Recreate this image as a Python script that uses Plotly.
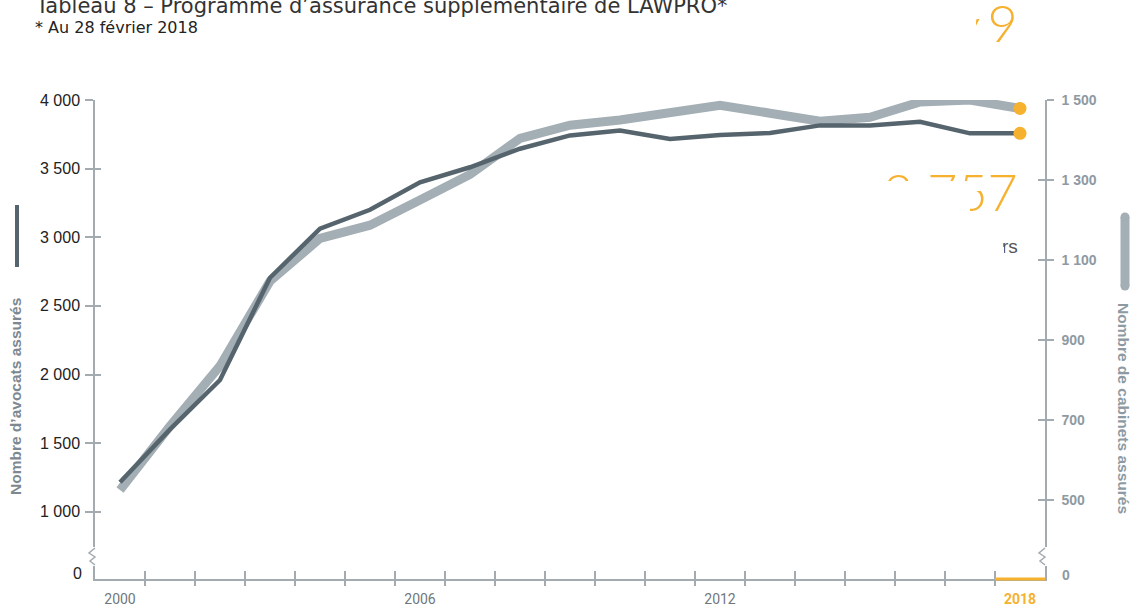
import plotly.graph_objects as go

# ---------------- data ----------------
years = list(range(2000, 2019))
avocats = [1215, 1600, 1960, 2705, 3062, 3200, 3400, 3510, 3645, 3742,
           3778, 3716, 3745, 3760, 3815, 3815, 3842, 3757, 3757]
cabinets = [525, 685, 835, 1047, 1154, 1187, 1250, 1314, 1404, 1437,
            1450, 1467, 1487, 1467, 1447, 1457, 1495, 1500, 1479]

left_tickvals = [1000, 1500, 2000, 2500, 3000, 3500, 4000]
left_ticktext = ["1\u00a0000", "1\u00a0500", "2\u00a0000", "2\u00a0500",
                 "3\u00a0000", "3\u00a0500", "4\u00a0000"]
right_tickvals = [500, 700, 900, 1100, 1300, 1500]
right_ticktext = ["500", "700", "900", "1 100", "1 300", "1 500"]
x_label_years = [2000, 2006, 2012, 2018]

title_text = "Tableau 8 – Programme d’assurance supplémentaire de LAWPRO*"
subtitle_text = "* Au 28 février 2018"
left_title = "Nombre d’avocats assurés"
right_title = "Nombre de cabinets assurés"

# ---------------- style ----------------
DARK = "#56656d"
GRAY = "#a3aeb5"
ORANGE = "#f6b12f"
AXIS = "#a3abb1"
RLAB = "#8e9aa2"
TITLE_GRAY = "#7d8890"

W, H = 1131, 609
PL, PR, PT, PB = 95, 1045, 100, 579


def px(x):
    return (x - PL) / (PR - PL)


def py(y):
    return (PB - y) / (PB - PT)


x_range = [years[0] - 0.5, years[-1] + 0.5]
boundaries = [y + 0.5 for y in years[:-1]]
left_range = [510, 4000]
right_range = [302.5, 1500]

x_ticktext = [str(y) for y in x_label_years[:-1]] + \
    ["<b><span style='color:%s'>%d</span></b>" % (ORANGE, x_label_years[-1])]

fig = go.Figure()

# cabinets (right axis, main y so it is drawn beneath)
fig.add_trace(go.Scatter(x=years, y=cabinets, mode="lines", xaxis="x", yaxis="y",
                         line=dict(color=GRAY, width=9), hoverinfo="skip", showlegend=False))
fig.add_trace(go.Scatter(x=[years[-1]], y=[cabinets[-1]], mode="markers", xaxis="x", yaxis="y",
                         marker=dict(color=ORANGE, size=13), hoverinfo="skip", showlegend=False))
# avocats (left axis, overlaying)
fig.add_trace(go.Scatter(x=years, y=avocats, mode="lines", xaxis="x", yaxis="y2",
                         line=dict(color=DARK, width=4.5), hoverinfo="skip", showlegend=False))
fig.add_trace(go.Scatter(x=[years[-1]], y=[avocats[-1]], mode="markers", xaxis="x", yaxis="y2",
                         marker=dict(color=ORANGE, size=13), hoverinfo="skip", showlegend=False))
# dummy traces so the tick-only overlay axes are drawn
for xa, ya in [("x", "y3"), ("x", "y4"), ("x2", "y")]:
    fig.add_trace(go.Scatter(x=[None], y=[None], xaxis=xa, yaxis=ya, mode="lines",
                             hoverinfo="skip", showlegend=False))

common = dict(showgrid=False, zeroline=False, fixedrange=True, automargin=False)

fig.update_layout(
    width=W, height=H, autosize=False,
    margin=dict(l=PL, r=W - PR, t=PT, b=H - PB, pad=0, autoexpand=False),
    paper_bgcolor="white", plot_bgcolor="white",
    showlegend=False,
    xaxis=dict(range=x_range, tickmode="array", tickvals=x_label_years, ticktext=x_ticktext,
               ticks="", showline=True, linecolor=AXIS, linewidth=1.5, anchor="y",
               tickfont=dict(family="Roboto", size=14, color="#70777c"),
               ticklabelstandoff=6,
               minor=dict(tickmode="array", tickvals=boundaries, ticks="outside",
                          ticklen=5, tickwidth=1.5, tickcolor=AXIS),
               **common),
    xaxis2=dict(range=x_range, overlaying="x", anchor="y", side="bottom",
                tickmode="array", tickvals=boundaries, ticks="inside", ticklen=8,
                tickwidth=1.5, tickcolor=AXIS, showline=False, showticklabels=False, **common),
    yaxis=dict(range=right_range, side="right", anchor="x", tickmode="array",
               tickvals=right_tickvals, ticktext=right_ticktext, ticks="outside",
               ticklen=7, tickwidth=1.5, tickcolor=AXIS, showline=True, linecolor=AXIS,
               linewidth=1.5, ticklabelstandoff=5,
               tickfont=dict(family="Liberation Sans", size=14, color=RLAB, weight="bold"),
               **common),
    yaxis2=dict(range=left_range, side="left", anchor="x", overlaying="y", tickmode="array",
                tickvals=left_tickvals, ticktext=left_ticktext, ticks="outside",
                ticklen=8, tickwidth=1.5, tickcolor=AXIS, showline=True, linecolor=AXIS,
                linewidth=1.5, ticklabelstandoff=2,
                tickfont=dict(family="Liberation Sans", size=16, color="#222222"),
                **common),
    yaxis3=dict(range=left_range, side="left", anchor="x", overlaying="y", tickmode="array",
                tickvals=left_tickvals, ticks="inside", ticklen=6, tickwidth=1.5,
                tickcolor=AXIS, showline=False, showticklabels=False, **common),
    yaxis4=dict(range=right_range, side="right", anchor="x", overlaying="y", tickmode="array",
                tickvals=right_tickvals, ticks="inside", ticklen=7, tickwidth=1.5,
                tickcolor=AXIS, showline=False, showticklabels=False, **common),
)

shapes = []
# axis breaks
zig = [(0, 548), (-6, 553), (0, 557), (-5, 561), (0, 565)]
for ax in (PL, PR):
    shapes.append(dict(type="rect", xref="paper", yref="paper", layer="above",
                       x0=px(ax - 2), x1=px(ax + 2), y0=py(547), y1=py(566),
                       fillcolor="white", line=dict(width=0)))
    path = "M " + " L ".join("%f,%f" % (px(ax + dx), py(yy)) for dx, yy in zig)
    shapes.append(dict(type="path", xref="paper", yref="paper", layer="above",
                       path=path, line=dict(color=AXIS, width=1.5)))
# orange highlight on x axis for 2018
shapes.append(dict(type="line", xref="x", yref="paper", layer="above",
                   x0=years[-1] - 0.5, x1=years[-1] + 0.5, y0=0, y1=0,
                   line=dict(color=ORANGE, width=3)))
# legend swatches next to axis titles
shapes.append(dict(type="line", xref="paper", yref="paper", x0=px(17), x1=px(17),
                   y0=py(205), y1=py(267), line=dict(color=DARK, width=4)))
shapes.append(dict(type="line", xref="paper", yref="paper", x0=px(1125), x1=px(1125),
                   y0=py(217), y1=py(286), line=dict(color=GRAY, width=9)))
for cy in (217, 286):
    shapes.append(dict(type="circle", xref="paper", yref="paper",
                       x0=px(1120.5), x1=px(1129.5), y0=py(cy - 4.5), y1=py(cy + 4.5),
                       fillcolor=GRAY, line=dict(width=0)))
fig.update_layout(shapes=shapes)

ann = []
# title / subtitle
ann.append(dict(text=title_text, xref="paper", yref="paper", x=px(33), y=py(6),
                xanchor="left", yanchor="middle", showarrow=False,
                font=dict(family="DejaVu Sans", size=21, color="#333333")))
ann.append(dict(text=subtitle_text, xref="paper", yref="paper", x=px(33), y=py(27),
                xanchor="left", yanchor="middle", showarrow=False,
                font=dict(family="DejaVu Sans", size=16, color="#222222")))
# axis titles
ann.append(dict(text=left_title, xref="paper", yref="paper", x=px(16), y=py(397),
                xanchor="center", yanchor="middle", textangle=-90, showarrow=False,
                font=dict(family="Liberation Sans", size=15.5, color=TITLE_GRAY, weight="bold")))
ann.append(dict(text=right_title, xref="paper", yref="paper", x=px(1124), y=py(408),
                xanchor="center", yanchor="middle", textangle=90, showarrow=False,
                font=dict(family="Liberation Sans", size=15.5, color=RLAB, weight="bold")))
# "0" labels at the broken axes
ann.append(dict(text="0", xref="paper", yref="paper", x=px(84), y=py(573),
                xanchor="right", yanchor="middle", showarrow=False,
                font=dict(family="Liberation Sans", size=16, color="#222222")))
ann.append(dict(text="0", xref="paper", yref="paper", x=px(1060), y=py(575),
                xanchor="left", yanchor="middle", showarrow=False,
                font=dict(family="Liberation Sans", size=14, color=RLAB, weight="bold")))
# partially masked callout numbers (top right)
ann.append(dict(text="1 479", xref="paper", yref="paper", x=px(1020), y=py(-11),
                xanchor="right", yanchor="top", showarrow=False,
                font=dict(family="Lato", size=52, color=ORANGE, weight=300)))
ann.append(dict(text="3 757", xref="paper", yref="paper", x=px(1020), y=py(158),
                xanchor="right", yanchor="top", showarrow=False,
                font=dict(family="Lato", size=52, color=ORANGE, weight=300)))
ann.append(dict(text="rs", xref="paper", yref="paper", x=px(1020), y=py(246),
                xanchor="right", yanchor="middle", showarrow=False,
                font=dict(family="Liberation Sans", size=19, color="#555555")))


def mask(x0, x1, y0, y1):
    return dict(text=" ", xref="paper", yref="paper", x=px(x0), y=py(y0),
                xanchor="left", yanchor="top", showarrow=False, bgcolor="white",
                width=x1 - x0, height=y1 - y0, borderpad=0, borderwidth=0)


ann.append(mask(850, 976, -5, 56))
ann.append(mask(976, 991, -5, 19))
ann.append(mask(860, 970, 181, 236))
ann.append(mask(965, 980, 181, 191))
ann.append(mask(990, 1004, 247, 262))
fig.update_layout(annotations=ann)

fig.write_html("out.html")
